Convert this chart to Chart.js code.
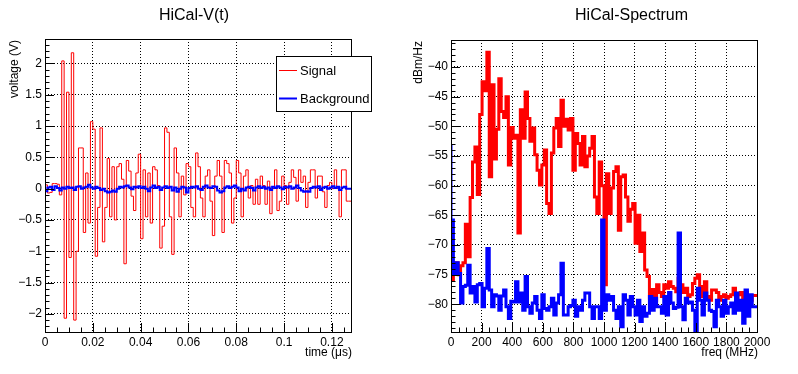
<!DOCTYPE html>
<html>
<head>
<meta charset="utf-8">
<script src="https://cdn.jsdelivr.net/npm/chart.js@4.4.1/dist/chart.umd.min.js"></script>
<style>
  html, body { margin: 0; padding: 0; background: #fff; }
  #wrap { position: relative; width: 798px; height: 374px; }
  canvas { position: absolute; top: 0; }
  #voltChart { left: 0; }
  #specChart { left: 399px; }
</style>
</head>
<body>
<div id="wrap">
  <canvas id="voltChart" width="399" height="374"></canvas>
  <canvas id="specChart" width="399" height="374"></canvas>
</div>
<script>
// ─── Data ─────────────────────────────────────────────────────────────────────
const timeTicks = [0, 0.02, 0.04, 0.06, 0.08, 0.1, 0.12];
const voltTicks = [-2, -1.5, -1, -0.5, 0, 0.5, 1, 1.5, 2];
const freqTicks = [0, 200, 400, 600, 800, 1000, 1200, 1400, 1600, 1800, 2000];
const dbmTicks = [-80, -75, -70, -65, -60, -55, -50, -45, -40];

const sampleStep = 0.001;   // µs per bin
const freqStep = 15.625;    // MHz per bin

const signalV = [
  0.07, 0.06, -0.07, -0.06, 0.08, 0.08, 0.07, -0.1,
  2.04, -2.07, 1.54, -1.1, 2.17, -2.1, -1.0, 0.65,
  0.65, -0.7, 0.25, -0.55, 1.07, 0.95, -1.08, -0.3,
  0.97, -0.85, -0.3, 0.48, -0.45, 0.35, -0.5, 0.35,
  0.4, 0.15, -1.2, 0.45, 0.28, -0.12, -0.35, 0.25,
  0.55, -0.8, 0.3, -0.45, 0.25, -0.55, 0.35, 0.3,
  0.05, -0.95, -0.6, 0.97, 0.9, -0.45, -1.05, 0.65,
  0.25, -0.45, 0.2, -0.1, 0.4, 0.35, -0.3, -0.45,
  0.57, 0.35, -0.15, -0.45, 0.2, 0.3, -0.2, -0.75,
  0.2, 0.45, 0.2, -0.7, 0.45, 0.4, 0.25, -0.55,
  -0.15, 0.45, 0.25, -0.45, 0.2, 0.3, -0.15, 0.05,
  -0.25, 0.15, -0.25, 0.2, 0.05, -0.25, 0.12, -0.4,
  0.0, 0.3, -0.35, -0.2, 0.2, 0.05, -0.25, 0.1,
  0.3, 0.18, -0.2, 0.3, 0.1, 0.2, -0.3, 0.1,
  0.3, 0.3, -0.15, 0.2, 0.2, -0.05, -0.3, 0.05,
  0.1, 0.0, 0.3, 0.0, -0.45, 0.3, 0.3, -0.2
];

const backgroundV = [
  0.0, -0.04, 0.02, 0.03, -0.02, 0.04, 0.01, -0.03,
  0.02, 0.0, 0.03, 0.01, 0.02, -0.02, 0.03, 0.04,
  0.0, 0.02, 0.03, 0.06, 0.02, 0.0, 0.03, 0.01,
  -0.02, 0.0, -0.04, -0.06, -0.05, -0.03, -0.05, 0.0,
  0.03, 0.02, 0.04, 0.05, 0.02, -0.01, 0.03, 0.02,
  0.04, 0.01, 0.03, 0.0, -0.04, 0.02, 0.05, 0.01,
  0.03, -0.02, 0.02, 0.04, 0.01, 0.03, -0.03, 0.02,
  -0.05, 0.0, 0.03, 0.02, -0.06, 0.01, 0.03, 0.02,
  0.04, 0.0, -0.02, 0.03, 0.05, 0.02, 0.01, 0.04,
  0.03, -0.03, -0.06, -0.04, 0.02, 0.04, 0.01, 0.03,
  0.05, 0.02, -0.04, 0.0, -0.03, 0.02, 0.03, 0.01,
  -0.03, 0.02, 0.04, 0.01, 0.03, 0.0, 0.02, -0.02,
  0.03, 0.01, 0.04, 0.02, -0.01, 0.03, 0.02, 0.04,
  0.0, 0.02, 0.05, 0.01, -0.03, -0.05, -0.04, -0.05,
  0.01, 0.03, 0.02, 0.04, -0.02, 0.02, 0.03, 0.0,
  0.02, 0.04, 0.01, 0.03, -0.02, 0.02, 0.03, 0.0
];

const signalDbm = [
  -73, -76, -74, -73, -75, -73.5, -73, -66.5,
  -72, -62, -56, -53.5, -61.5, -48, -42.5, -44,
  -37.5, -58.5, -43, -55.5, -50.5, -42, -47.5, -48.5,
  -45, -56.5, -50.2, -52, -51.5, -68, -47.2, -52,
  -44.2, -48.7, -52.5, -50.3, -54.8, -57.4, -59.9, -56.5,
  -54, -63, -64.7, -54.5, -50.3, -48.7, -53.4, -45.6,
  -50, -48.8, -50.6, -48.7, -57.4, -51.2, -52.9, -56.5,
  -51.7, -56.8, -55, -53.7, -51.7, -61.9, -64.7, -56,
  -60, -76.7, -58, -64.7, -60.4, -57.6, -56.8, -67.5,
  -58.5, -58.2, -61.9, -66, -64, -63, -69.7, -65,
  -71.1, -68, -74.2, -75.3, -79, -77.5, -79.3, -76.7,
  -78, -78.7, -76.7, -77.3, -76.2, -77, -77.3, -77.9,
  -75.6, -76.7, -78, -77.3, -78.7, -78.4, -76.5, -75.6,
  -75, -77, -78.7, -76.2, -78.7, -79.3, -77.6, -77.6,
  -78, -79.3, -78.7, -78.4, -79, -78.7, -78.4, -77.3,
  -79.3, -78.4, -78, -79.8, -78, -79.3, -79.3, -78.5
];

const backgroundDbm = [
  -53, -65.8, -74.8, -73, -74.8, -79.8, -77, -76.8,
  -73.4, -78.1, -77, -79.6, -76.7, -76.5, -80.4, -77.3,
  -70.6, -77.6, -80.4, -78.4, -78.6, -81, -78.6, -77.6,
  -80.4, -82.4, -79.5, -79.6, -76.2, -79.6, -78.1, -81,
  -75.3, -80.4, -81.5, -79.8, -78.7, -81, -82.4, -78.4,
  -80.7, -81, -80.4, -79, -81.8, -79.8, -78.4, -73.1,
  -81.8, -81.8, -80.4, -80.2, -79.3, -82, -80.4, -81,
  -79.3, -78.1, -78.1, -80.4, -82.4, -80.4, -80.4, -82.4,
  -65.8, -81, -78.4, -79.3, -78.7, -81, -82.4, -80.4,
  -83.8, -78.4, -79.3, -81.8, -78.7, -80.4, -81.8, -79.3,
  -82.9, -80.4, -82, -81.5, -78.7, -81, -79, -80.4,
  -80.4, -81.5, -78.7, -81.8, -78, -79.8, -80.7, -80.5,
  -68, -80.4, -82.6, -79, -79.8, -79.6, -81, -85.5,
  -77.3, -79.3, -81.8, -78.1, -79.3, -81, -81.2, -83.8,
  -79.3, -80.4, -82, -79.3, -81.5, -80.4, -79.8, -81.5,
  -78.1, -81, -79.3, -83.2, -77.6, -82, -78.4, -80.4
];

// ─── Helpers ──────────────────────────────────────────────────────────────────
const FONT = "'Liberation Sans', Arial, Helvetica, sans-serif";

// histogram bins -> step points (low edges + closing upper edge)
function histPoints(values, step) {
  const pts = values.map((v, i) => ({ x: i * step, y: v }));
  pts.push({ x: values.length * step, y: values[values.length - 1] });
  return pts;
}

function fmt(v) {
  return String(+v.toFixed(3)).replace('-', '\u2212');
}

// ─── ROOT-style frame: inner ticks, box, titles, legend ───────────────────────
const rootFrame = {
  id: 'rootFrame',
  afterDatasetsDraw(chart, args, o) {
    const { ctx, chartArea: a, scales: { x, y } } = chart;
    const onStep = (v, s) => Math.abs(v / s - Math.round(v / s)) < 1e-6;
    ctx.save();
    ctx.strokeStyle = '#000';
    ctx.lineWidth = 1;
    ctx.beginPath();
    for (let k = Math.ceil(x.min / o.xMinor - 1e-6); k * o.xMinor <= x.max + 1e-9; k++) {
      const v = k * o.xMinor;
      const px = Math.round(x.getPixelForValue(v)) + 0.5;
      ctx.moveTo(px, a.bottom);
      ctx.lineTo(px, a.bottom - (onStep(v, o.xMajor) ? o.tickLen : o.tickLen / 2));
    }
    for (let k = Math.ceil(y.min / o.yMinor - 1e-6); k * o.yMinor <= y.max + 1e-9; k++) {
      const v = k * o.yMinor;
      const py = Math.round(y.getPixelForValue(v)) + 0.5;
      ctx.moveTo(a.left, py);
      ctx.lineTo(a.left + (onStep(v, o.yMajor) ? o.tickLen : o.tickLen / 2), py);
    }
    ctx.stroke();
    ctx.strokeRect(a.left + 0.5, a.top + 0.5, a.right - a.left, a.bottom - a.top);

    ctx.fillStyle = '#000';
    ctx.textBaseline = 'alphabetic';
    // panel title
    ctx.font = '16px ' + FONT;
    ctx.textAlign = 'center';
    ctx.fillText(o.title, o.titleX, 20);
    // axis titles
    ctx.font = '12px ' + FONT;
    ctx.textAlign = 'right';
    ctx.fillText(o.xTitle, a.right + 1, 356);
    ctx.save();
    ctx.translate(o.yTitleX, a.top + 1);
    ctx.rotate(-Math.PI / 2);
    ctx.fillText(o.yTitle, 0, 0);
    ctx.restore();

    // legend box
    if (o.legend) {
      const L = o.legend;
      ctx.fillStyle = '#fff';
      ctx.fillRect(L.x, L.y, L.w, L.h);
      ctx.strokeRect(L.x + 0.5, L.y + 0.5, L.w, L.h);
      ctx.font = '13px ' + FONT;
      ctx.textAlign = 'left';
      chart.data.datasets.forEach((ds, i) => {
        const ly = L.y + L.rows[i];
        ctx.strokeStyle = ds.borderColor;
        ctx.lineWidth = i === 0 ? 1 : 2;
        ctx.beginPath();
        ctx.moveTo(L.x + 3, ly);
        ctx.lineTo(L.x + 21, ly);
        ctx.stroke();
        ctx.fillStyle = '#000';
        ctx.fillText(ds.label, L.x + 24, ly + 4.5);
      });
    }
    ctx.restore();
  }
};

function axisCfg(min, max, ticks, fit) {
  return {
    type: 'linear', min, max,
    afterBuildTicks: s => { s.ticks = ticks.map(v => ({ value: v })); },
    afterFit: fit,
    grid: { color: '#000', lineWidth: 1, drawTicks: false },
    border: { display: false, dash: [1, 2] },
    ticks: {
      autoSkip: false, maxRotation: 0, padding: 3, color: '#000',
      font: { family: FONT, size: 12 },
      callback: v => fmt(v)
    }
  };
}

function makePanel(id, cfg) {
  return new Chart(document.getElementById(id), {
    type: 'line',
    data: {
      datasets: [
        {
          label: 'Signal', data: cfg.signal, borderColor: '#ff0000',
          borderWidth: cfg.sigWidth, stepped: 'after', pointRadius: 0, order: 1
        },
        {
          label: 'Background', data: cfg.background, borderColor: '#0000ff',
          borderWidth: cfg.bgWidth, stepped: 'after', pointRadius: 0, order: 0
        }
      ]
    },
    options: {
      responsive: false, animation: false, devicePixelRatio: 1, events: [],
      layout: { padding: cfg.padding },
      scales: {
        x: axisCfg(cfg.xMin, cfg.xMax, cfg.xTicks, s => { s.height = 42; }),
        y: axisCfg(cfg.yMin, cfg.yMax, cfg.yTicks, s => { s.width = cfg.yWidth; })
      },
      plugins: {
        legend: { display: false },
        tooltip: { enabled: false },
        rootFrame: cfg.frame
      }
    },
    plugins: [rootFrame]
  });
}

// ─── Left: HiCal-V(t) ─────────────────────────────────────────────────────────
makePanel('voltChart', {
  signal: histPoints(signalV, sampleStep),
  background: histPoints(backgroundV, sampleStep),
  sigWidth: 1, bgWidth: 2,
  padding: { left: 0, right: 48, top: 39, bottom: 0 },
  yWidth: 45,
  xMin: 0, xMax: 0.128, xTicks: timeTicks,
  yMin: -2.29, yMax: 2.39, yTicks: voltTicks,
  frame: {
    title: 'HiCal-V(t)', titleX: 194,
    xTitle: 'time (\u03bcs)', yTitle: 'voltage (V)', yTitleX: 18,
    xMajor: 0.02, xMinor: 0.005, yMajor: 0.5, yMinor: 0.1, tickLen: 9,
    legend: { x: 276, y: 56, w: 95, h: 55, rows: [14.5, 42.5] }
  }
});

// ─── Right: HiCal-Spectrum ────────────────────────────────────────────────────
makePanel('specChart', {
  signal: histPoints(signalDbm, freqStep),
  background: histPoints(backgroundDbm, freqStep),
  sigWidth: 3, bgWidth: 3,
  padding: { left: 0, right: 41, top: 40, bottom: 0 },
  yWidth: 52,
  xMin: 0, xMax: 2000, xTicks: freqTicks,
  yMin: -84.67, yMax: -35.45, yTicks: dbmTicks,
  frame: {
    title: 'HiCal-Spectrum', titleX: 232.5,
    xTitle: 'freq (MHz)', yTitle: 'dBm/Hz', yTitleX: 23,
    xMajor: 200, xMinor: 50, yMajor: 5, yMinor: 1, tickLen: 9,
    legend: null
  }
});
</script>
</body>
</html>
